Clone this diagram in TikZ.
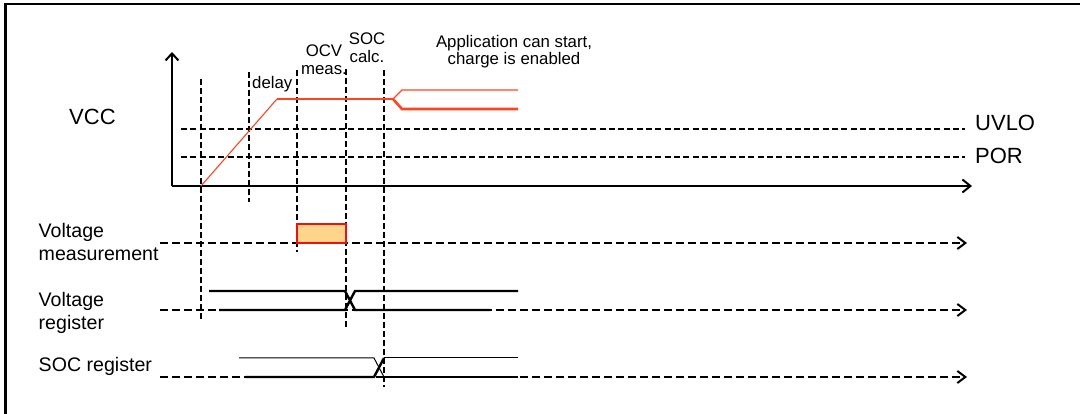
\documentclass[tikz,border=0pt]{standalone}
\usepackage{fontspec}
\setmainfont{Liberation Sans}
\usetikzlibrary{math,arrows.meta}
\definecolor{vccred}{HTML}{FF4422}
\definecolor{measfill}{HTML}{FFD58C}
\definecolor{measedge}{HTML}{F01010}

\begin{document}
\begin{tikzpicture}[x=1pt,y=-1pt,
	bigtext/.style={inner sep=0pt, font=\fontsize{22}{26}\selectfont},
	sigtext/.style={inner sep=0pt, font=\fontsize{19.6}{22.5}\selectfont, align=left},
	smalltext/.style={inner sep=0pt, font=\fontsize{16.8}{17.5}\selectfont, align=center},
	tick/.style={line width=2.4pt, dash pattern=on 6pt off 3pt},
	level/.style={line width=2.2pt, dash pattern=on 6pt off 3.3pt},
	signal/.style={line width=2pt, dash pattern=on 8pt off 4pt, -{Straight Barb[length=8pt,width=12pt,line width=2pt]}},
	regline/.style={line width=2.4pt},
	vccthin/.style={vccred, line width=1.1pt},
	vccthick/.style={vccred, line width=2.6pt}]
	% Constants
	\tikzmath{\tzero = 201; \tdelay = 249; \tocv = 297; \tsoc = 346; \tapp = 384;
		\yaxis = 186; \yuvlo = 129; \ypor = 157; \yvcc = 99; \xend = 967;
		\ymeas = 243; \yvreg = 310; \ysreg = 377;}

	\useasboundingbox (0,0) rectangle (1080,414);

	% Frame
	\draw[line width=2.2pt] (5.5,414) -- (5.5,4.2) -- (1080,4.2);

	% Axes
	\coordinate (origin) at (172,\yaxis);
	\draw[line width=2.2pt, -{Straight Barb[length=7pt,width=13pt,line width=2pt]}] (origin) -- (172,52);
	\draw[line width=2.2pt, -{Straight Barb[length=8pt,width=13pt,line width=2pt]}] (origin) -- (972,\yaxis);

	% Thresholds
	\draw[level] (181,\yuvlo) -- (965,\yuvlo);
	\draw[level] (181,\ypor) -- (965,\ypor);
	\node[bigtext, anchor=base west] (vcc) at (69,125) {VCC};
	\node[bigtext, anchor=base west] (uvlo) at (975,130.5) {UVLO};
	\node[bigtext, anchor=base west] (por) at (975,164) {POR};

	% Time marks
	\draw[line width=1.2pt, dash pattern=on 6pt off 3pt] (\tzero,79) -- (\tzero,321);
	\draw[tick] (\tdelay,72) -- (\tdelay,202);
	\draw[tick] (\tocv,70) -- (\tocv,252);
	\draw[tick] (\tsoc,69) -- (\tsoc,328);
	\draw[tick] (\tapp,70) -- (\tapp,387);

	\node[smalltext, anchor=base west] (delay) at (252,88.5) {delay};
	\node[smalltext, anchor=north] (ocv) at (324,45) {OCV\\meas.};
	\node[smalltext, anchor=north] (soccalc) at (367,33) {SOC\\calc.};
	\node[smalltext, anchor=north] (app) at (514,35) {Application can start,\\charge is enabled};

	% VCC
	\draw[vccthin] (\tzero,\yaxis) -- (277,\yvcc);
	\draw[vccthick] (277,\yvcc) -- (393,\yvcc);
	\draw[vccthin] (393,\yvcc) -- (402,90) -- (518,90);
	\draw[vccthick] (393,\yvcc) -- (402,109) -- (518,109);

	% Voltage measurement
	\node[sigtext, anchor=north west] (vmeas) at (38.5,223.5) {Voltage\\measurement};
	\draw[signal] (160,\ymeas) -- (\xend,\ymeas);
	\draw[measedge, fill=measfill, line width=1.6pt] (\tocv,224) rectangle (\tsoc,\ymeas);

	% Voltage register
	\node[sigtext, anchor=north west] (vreg) at (38.5,292.5) {Voltage\\register};
	\draw[signal] (160,\yvreg) -- (\xend,\yvreg);
	\draw[regline] (209,291) -- (345,291) -- (355,\yvreg) -- (490,\yvreg);
	\draw[regline] (219,\yvreg) -- (345,\yvreg) -- (355,291) -- (518,291);

	% SOC register
	\node[sigtext, anchor=base west] (sreg) at (38.5,371.5) {SOC register};
	\draw[signal] (160,\ysreg) -- (\xend,\ysreg);
	\draw[line width=1pt] (239,358) -- (374,358) -- (384,\ysreg);
	\draw[line width=1pt] (384,358) -- (518,358);
	\draw[regline] (245,\ysreg) -- (374,\ysreg) -- (384,358);
	\draw[regline] (384,\ysreg) -- (518,\ysreg);
\end{tikzpicture}
\end{document}
